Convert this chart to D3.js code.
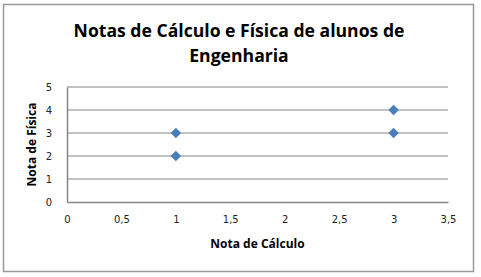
<!DOCTYPE html>
<html>
<head>
<meta charset="utf-8">
<script src="https://cdn.jsdelivr.net/npm/d3@7"></script>
<style>
body { margin: 0; background: #fff; }
</style>
</head>
<body>
<script>
var width = 481
var height = 277
var margin = { left: 67, top: 87, right: 33, bottom: 75 }
var innerWidth = 448 - margin.left
var innerHeight = 202 - margin.top

var titleLines = ['Notas de Cálculo e Física de alunos de', 'Engenharia']
var xTitle = 'Nota de Cálculo'
var yTitle = 'Nota de Física'
var calculo = [1, 1, 3, 3]
var fisica = [3, 2, 4, 3]
var xTicks = [0, 0.5, 1, 1.5, 2, 2.5, 3, 3.5]
var yTicks = [0, 1, 2, 3, 4, 5]

var svg = d3.select('body').append('svg').attr('width', width).attr('height', height)

svg.append('rect').attr('x', 3.5).attr('y', 4.5).attr('width', 470).attr('height', 267)
    .attr('fill', '#fff').attr('stroke', '#999').attr('stroke-width', 1.5)

svg.append('g').selectAll('text').data(titleLines).enter().append('text')
    .text(d => d)
    .attr('x', 239).attr('y', (d, i) => 37 + i * 25)
    .attr('text-anchor', 'middle')
    .style('font-family', 'Open Sans').style('font-weight', 'bold').style('font-size', '17.6px')

var g = svg.append('g').attr('transform', `translate(${margin.left},${margin.top})`)

var xScale = d3.scaleLinear().domain([0, 3.5]).range([0, innerWidth])
var yScale = d3.scaleLinear().domain([0, 5]).range([innerHeight, 0])
var fmt = d => String(d).replace('.', ',')

g.append('g').selectAll('line').data(yTicks.slice(1)).enter().append('line')
    .attr('x1', 0).attr('x2', innerWidth)
    .attr('y1', d => yScale(d)).attr('y2', d => yScale(d))
    .attr('stroke', '#868686').attr('stroke-width', 1)

var xAxis = d3.axisBottom(xScale).tickValues(xTicks).tickFormat(fmt).tickSize(0).tickPadding(14)
var yAxis = d3.axisLeft(yScale).tickValues(yTicks).tickFormat(fmt).tickSize(0).tickPadding(15)

var xg = g.append('g').attr('transform', `translate(0, ${innerHeight})`).call(xAxis)
var yg = g.append('g').call(yAxis)
;[xg, yg].forEach(a => {
    a.select('.domain').attr('stroke', '#868686').attr('stroke-width', 1.5)
    a.selectAll('text').attr('fill', '#222').style('font-family', 'DejaVu Sans').style('font-size', '10px')
})

g.append('g').selectAll('path').data(calculo).enter().append('path')
    .attr('d', d3.symbol().type(d3.symbolDiamond2).size(70))
    .attr('transform', (d, i) => `translate(${xScale(d)},${yScale(fisica[i])})`)
    .attr('fill', '#4a7ebb')

svg.append('text').text(xTitle)
    .attr('x', margin.left + innerWidth / 2).attr('y', 248)
    .attr('text-anchor', 'middle')
    .style('font-family', 'Open Sans').style('font-weight', 'bold').style('font-size', '12px')

svg.append('text').text(yTitle)
    .attr('transform', `translate(36, ${margin.top + innerHeight / 2}) rotate(-90)`)
    .attr('text-anchor', 'middle')
    .style('font-family', 'Open Sans').style('font-weight', 'bold').style('font-size', '12px')
</script>
</body>
</html>
